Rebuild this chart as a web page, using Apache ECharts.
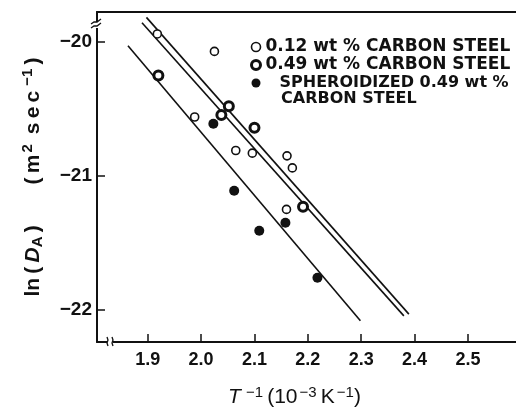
<!DOCTYPE html>
<html>
  <head>
    <meta charset="utf-8" />
    <title>ln(DA) vs 1/T</title>
    <script src="https://cdn.jsdelivr.net/npm/echarts@6/dist/echarts.min.js"></script>
    <style>
      html, body { margin: 0; padding: 0; background: #fff; }
    </style>
  </head>
  <body>
    <div id="main" style="width: 516px;height: 413px;"></div>
    <script type="text/javascript">
      // tick labels
      var xTicks = [1.9, 2.0, 2.1, 2.2, 2.3, 2.4, 2.5]
      var yTicks = [-22, -21, -20]

      // series names
      var names = ['0.12 wt % CARBON STEEL', '0.49 wt % CARBON STEEL', 'SPHEROIDIZED 0.49 wt %']

      // points: [1/T, ln(DA)]
      var steel012 = [
        [1.918, -19.94], [2.025, -20.07], [1.988, -20.56], [2.065, -20.81],
        [2.096, -20.83], [2.161, -20.85], [2.171, -20.94], [2.160, -21.25]
      ]
      var steel049 = [
        [1.920, -20.25], [2.038, -20.545], [2.052, -20.48], [2.100, -20.64], [2.191, -21.23]
      ]
      var spheroid = [
        [2.023, -20.61], [2.062, -21.11], [2.109, -21.41], [2.158, -21.35], [2.218, -21.76]
      ]

      // fitted lines (end points)
      var fit012 = [[1.8976, -19.816], [2.3893, -22.032]]
      var fit049 = [[1.8893, -19.856], [2.3799, -22.045]]
      var fitSph = [[1.8630, -20.028], [2.2985, -22.082]]

      var font = 'Liberation Sans'
      var legendFont = 'DejaVu Sans'
      var myChart = echarts.init(document.getElementById('main'))

      function fitLine(data) {
        return {
          type: 'line',
          data: data,
          symbol: 'none',
          silent: true,
          lineStyle: { color: '#111', width: 1.6 },
          z: 2
        }
      }

      var option = {
        animation: false,
        backgroundColor: '#fff',
        grid: { left: 97, right: 0, top: 12, bottom: 71 },
        legend: {
          orient: 'vertical',
          left: 245,
          top: 33,
          itemWidth: 9,
          itemHeight: 9,
          itemGap: 0,
          selectedMode: false,
          textStyle: { fontFamily: legendFont, fontSize: 17, fontWeight: 'bold', color: '#111', lineHeight: 18 },
          data: [
            { name: names[0], itemStyle: { borderWidth: 1.6 } },
            { name: names[1], itemStyle: { borderWidth: 3 } },
            { name: names[2], textStyle: { fontSize: 16, padding: [0, 0, 0, 14] } }
          ]
        },
        xAxis: [
          {
            type: 'value',
            min: 1.805,
            max: 2.59,
            splitLine: { show: false },
            axisLine: { lineStyle: { color: '#111', width: 2 } },
            axisTick: { inside: true, length: 8, customValues: xTicks, lineStyle: { color: '#111', width: 1.5 } },
            axisLabel: {
              customValues: xTicks,
              margin: 9,
              color: '#111',
              fontFamily: font,
              fontSize: 18,
              fontWeight: 'bold',
              formatter: function (v) { return v.toFixed(1) }
            },
            name: '{i|T}{sup|\u2009−1}\u2009(10{sup|−3}\u2009K{sup|−1})',
            nameLocation: 'middle',
            nameGap: 43,
            nameTextStyle: {
              color: '#111',
              fontFamily: font,
              fontSize: 21,
              padding: [0, 24, 0, 0],
              rich: {
                i: { fontStyle: 'italic', fontSize: 21, fontFamily: font, color: '#111' },
                sup: { fontSize: 15, fontFamily: font, color: '#111', padding: [0, 0, 10, 2] }
              }
            }
          },
          {
            type: 'value',
            position: 'top',
            min: 1.805,
            max: 2.59,
            splitLine: { show: false },
            axisLine: { show: true, lineStyle: { color: '#111', width: 2 } },
            axisTick: { show: false },
            axisLabel: { show: false }
          }
        ],
        yAxis: {
          type: 'value',
          min: -22.24,
          max: -19.776,
          splitLine: { show: false },
          axisLine: { show: true, lineStyle: { color: '#111', width: 2 } },
          axisTick: { inside: true, length: 8, customValues: yTicks, lineStyle: { color: '#111', width: 1.5 } },
          axisLabel: {
            customValues: yTicks,
            margin: 5,
            color: '#111',
            fontFamily: font,
            fontSize: 19,
            fontWeight: 'bold',
            formatter: function (v) { return '−' + Math.abs(v) }
          },
          name: 'ln\u2009(\u2009{i|D}{sub|A}\u2009)       (\u2009m{sup|2}\u2009 s\u2009e\u2009c{sup|\u2009−1}\u2009)',
          nameLocation: 'middle',
          nameRotate: 90,
          nameGap: 50,
          nameTextStyle: {
            color: '#111',
            fontFamily: font,
            fontSize: 21,
            fontWeight: 'bold',
            rich: {
              i: { fontStyle: 'italic', fontSize: 21, fontWeight: 'bold', fontFamily: font, color: '#111' },
              sub: { fontSize: 15, fontWeight: 'bold', fontFamily: font, color: '#111', padding: [8, 0, 0, 0] },
              sup: { fontSize: 15, fontWeight: 'bold', fontFamily: font, color: '#111', padding: [0, 0, 12, 2] }
            }
          }
        },
        graphic: [
          {
            type: 'text',
            left: 281,
            top: 91,
            style: { text: 'CARBON STEEL', font: 'bold 16px "DejaVu Sans"', fill: '#111' }
          },
          // axis break marks
          { type: 'rect', shape: { x: 94, y: 22, width: 6, height: 6 }, style: { fill: '#fff' }, z: 10 },
          { type: 'polyline', shape: { points: [[91, 24], [94, 22], [97, 22], [101, 19]] }, style: { stroke: '#111', lineWidth: 1.3, fill: null }, z: 11 },
          { type: 'polyline', shape: { points: [[91, 28], [94, 26], [97, 26], [101, 23]] }, style: { stroke: '#111', lineWidth: 1.3, fill: null }, z: 11 },
          { type: 'rect', shape: { x: 107, y: 339, width: 6, height: 6 }, style: { fill: '#fff' }, z: 10 },
          { type: 'polyline', shape: { points: [[108, 346], [107, 343], [108, 340], [107, 337]] }, style: { stroke: '#111', lineWidth: 1.3, fill: null }, z: 11 },
          { type: 'polyline', shape: { points: [[113, 346], [112, 343], [113, 340], [112, 337]] }, style: { stroke: '#111', lineWidth: 1.3, fill: null }, z: 11 }
        ],
        series: [
          fitLine(fit012),
          fitLine(fit049),
          fitLine(fitSph),
          {
            name: names[0],
            type: 'scatter',
            data: steel012,
            symbol: 'circle',
            symbolSize: 8,
            itemStyle: { color: '#fff', borderColor: '#111', borderWidth: 1.6, opacity: 1 },
            z: 5
          },
          {
            name: names[1],
            type: 'scatter',
            data: steel049,
            symbol: 'circle',
            symbolSize: 9,
            itemStyle: { color: '#fff', borderColor: '#111', borderWidth: 3, opacity: 1 },
            z: 5
          },
          {
            name: names[2],
            type: 'scatter',
            data: spheroid,
            symbol: 'circle',
            symbolSize: 10,
            itemStyle: { color: '#111', opacity: 1 },
            z: 5
          }
        ]
      }

      myChart.setOption(option)
    </script>
  </body>
</html>
